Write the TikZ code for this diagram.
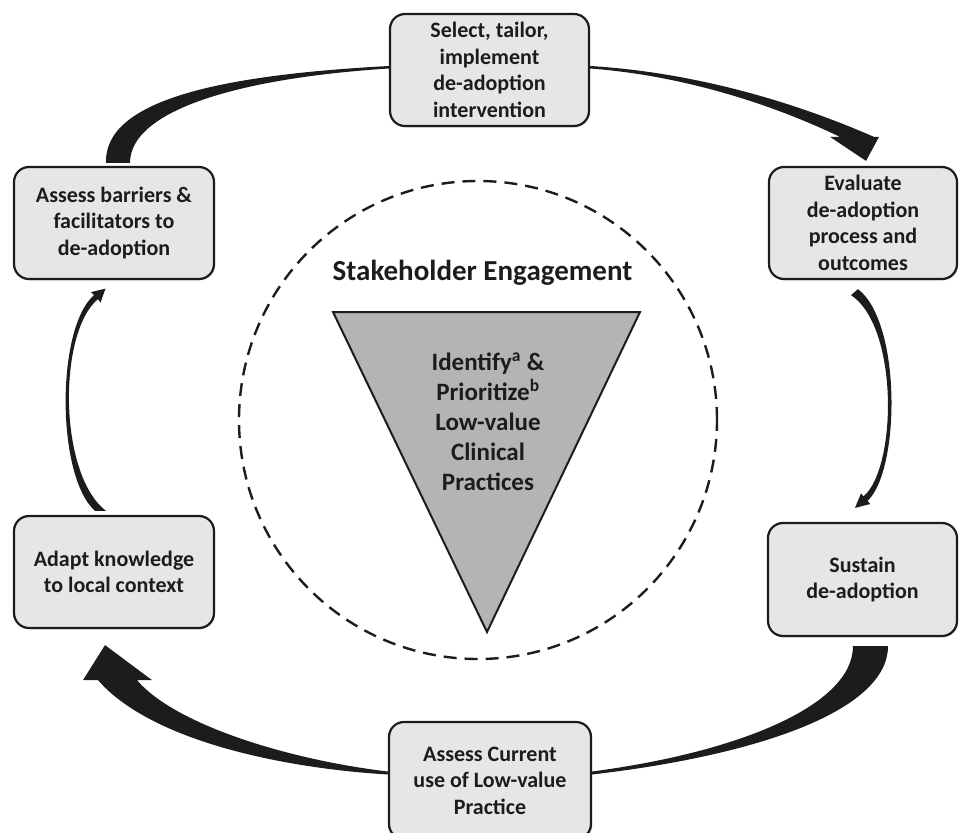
\documentclass[tikz,border=0pt]{standalone}
\usepackage{fontspec}
\setmainfont{Carlito}
\usetikzlibrary{calc,shadows}
\definecolor{boxgray}{HTML}{E6E6E6}
\definecolor{trigray}{HTML}{B4B4B4}
\definecolor{ink}{HTML}{1C1C1A}
\begin{document}
\begin{tikzpicture}[x=1pt,y=-1pt,
  box/.style={draw=ink, line width=2.2pt, rounded corners=15pt, fill=boxgray,
    align=center, text=ink, inner sep=0pt,
    font=\bfseries\fontsize{22}{26.5}\selectfont,
    drop shadow={shadow xshift=1.2pt, shadow yshift=-1.5pt, opacity=0.25}},
  conn/.style={fill=ink},
  engcircle/.style={draw=ink, circle, line width=2.4pt, dash pattern=on 13pt off 8pt, inner sep=0pt}]
\useasboundingbox (0,0) rectangle (962,833);

% stakeholder circle and funnel
\node[engcircle, minimum size=478pt] (eng) at (478,420) {};
\node[font=\bfseries\fontsize{29}{30}\selectfont, text=ink] (title) at (482.5,273) {Stakeholder Engagement};
\coordinate (t1) at (333,312);
\coordinate (t2) at (640,312);
\coordinate (t3) at (487,632);
\draw[ink, line width=2pt, fill=trigray, line join=miter] (t1) -- (t2) -- (t3) -- cycle;
\node[align=center, text=ink, font=\bfseries\fontsize{25}{30}\selectfont] (ident) at (488,422)
  {Identify\textsuperscript{a} \&\\Prioritize\textsuperscript{b}\\Low-value\\Clinical\\Practices};

% boxes
\node[box, minimum width=199pt, minimum height=112pt] (sel) at (489.5,70) {Select, tailor,\\implement\\de-adoption\\intervention};
\node[box, minimum width=188pt, minimum height=112pt] (eval) at (863,223) {Evaluate\\de-adoption\\process and\\outcomes};
\node[box, minimum width=189pt, minimum height=113pt] (sust) at (862.5,579.5) {Sustain\\de-adoption};
\node[box, minimum width=202pt, minimum height=117pt] (cur) at (490,780.5) {Assess Current\\use of Low-value\\Practice};
\node[box, minimum width=200pt, minimum height=112pt] (adapt) at (114,572) {Adapt knowledge\\to local context};
\node[box, minimum width=200pt, minimum height=112pt] (barr) at (114,223) {Assess barriers \&\\facilitators to\\de-adoption};

% barr -> sel (thick, tapering)
\coordinate (a1) at ($(barr.north)+(-8,-3)$);
\coordinate (a2) at ($(barr.north)+(16,-3)$);
\coordinate (a3) at ($(sel.west)+(0,-4)$);
\coordinate (a4) at ($(sel.west)+(0,-1.5)$);
\fill[conn] (a1) .. controls (104,100) and (220,75) .. (a3) -- (a4)
  .. controls (240,78) and (130,110) .. (a2) -- cycle;

% sel -> eval (widening, arrowhead)
\coordinate (b1) at ($(sel.east)+(0,-4)$);
\coordinate (b2) at ($(sel.east)+(0,-1.5)$);
\coordinate (bt) at ($(eval.north)+(3,-5)$);
\coordinate (bl) at ($(eval.north)+(-33,-29)$);
\coordinate (br) at ($(eval.north)+(16,-29)$);
\coordinate (bsl) at ($(eval.north)+(-23,-29)$);
\coordinate (bsu) at ($(eval.north)+(11,-29)$);
\fill[conn] (b1) .. controls (690,72) and (790,100) .. (bsu) -- (br) -- (bt) -- (bl) -- (bsl)
  .. controls (780,108) and (690,76) .. (b2) -- cycle;

% eval -> sust (thin)
\coordinate (e1) at ($(eval.south)+(-5,9)$);
\coordinate (e2) at ($(eval.south)+(-12,15)$);
\coordinate (et) at ($(sust.north)+(-7.5,-14)$);
\coordinate (el) at ($(sust.north)+(7.7,-17.9)$);
\coordinate (er) at ($(sust.north)+(-1.5,-28.5)$);
\coordinate (es1) at ($(sust.north)+(5,-21)$);
\coordinate (es2) at ($(sust.north)+(1,-25.5)$);
\fill[conn] (e1) .. controls (902,323) and (900,471) .. (es1) -- (el) -- (et) -- (er) -- (es2)
  .. controls (897,468) and (899,327) .. (e2) -- cycle;

% sust -> cur (thick, tapering)
\coordinate (c1) at ($(sust.south)+(25.5,9)$);
\coordinate (c2) at ($(sust.south)+(-9.5,9)$);
\coordinate (c3) at ($(cur.east)+(0,-6)$);
\coordinate (c4) at ($(cur.east)+(0,-9)$);
\fill[conn] (c1) .. controls (888,710) and (760,755) .. (c3) -- (c4)
  .. controls (740,752) and (853,705) .. (c2) -- cycle;

% cur -> adapt (widening, arrowhead)
\coordinate (d1) at ($(cur.west)+(0,-6)$);
\coordinate (d2) at ($(cur.west)+(0,-9)$);
\coordinate (dt) at ($(adapt.south)+(-9,16)$);
\coordinate (dl) at ($(adapt.south)+(-31,51)$);
\coordinate (dr) at ($(adapt.south)+(38,51)$);
\coordinate (dso) at ($(adapt.south)+(-16,51)$);
\coordinate (dsi) at ($(adapt.south)+(23,51)$);
\fill[conn] (d1) .. controls (280,768) and (150,740) .. (dso) -- (dl) -- (dt) -- (dr) -- (dsi)
  .. controls (175,725) and (290,760) .. (d2) -- cycle;

% adapt -> barr (thin)
\coordinate (f1) at ($(adapt.north)+(-19,-4)$);
\coordinate (f2) at ($(adapt.north)+(-8,-4)$);
\coordinate (ft) at ($(barr.south)+(-8.5,8.5)$);
\coordinate (fl) at ($(barr.south)+(-23,12)$);
\coordinate (fr) at ($(barr.south)+(-13.5,22.5)$);
\coordinate (fs1) at ($(barr.south)+(-20,15)$);
\coordinate (fs2) at ($(barr.south)+(-16,19)$);
\fill[conn] (f1) .. controls (56,476) and (56,328) .. (fs1) -- (fl) -- (ft) -- (fr) -- (fs2)
  .. controls (58,332) and (58,474) .. (f2) -- cycle;
\end{tikzpicture}
\end{document}
